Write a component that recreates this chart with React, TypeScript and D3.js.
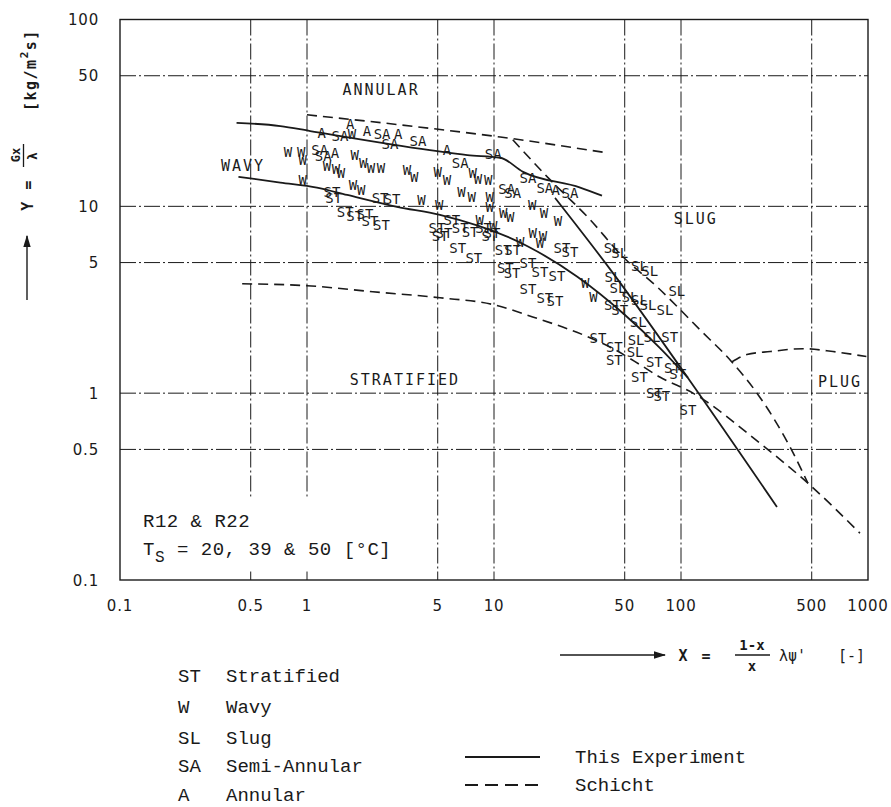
import React from 'react';
import * as d3 from 'd3';

// ---------- axis ticks ----------
const xTicks = [0.1, 0.5, 1, 5, 10, 50, 100, 500, 1000];
const xTickLabels = ['0.1', '0.5', '1', '5', '10', '50', '100', '500', '1000'];
const yTicks = [0.1, 0.5, 1, 5, 10, 50, 100];
const yTickLabels = ['0.1', '0.5', '1', '5', '10', '50', '100'];
const hGrid = [0.5, 1, 5, 10, 50];
const vGridFull = [5, 10, 50, 100, 500];
const vGridPartial = [0.5, 1];

// ---------- observed flow patterns [X, Y] ----------
const stPoints: [number, number][] = [
  [1.36, 12.0], [1.39, 11.1], [1.6, 9.35], [1.8, 8.9], [2.04, 9.1], [2.17, 8.3], [2.5, 7.9], [2.46, 11.1], [2.85, 11.0],
  [4.95, 7.7], [5.4, 7.2], [5.15, 6.9], [5.95, 8.5], [6.6, 7.7], [7.45, 7.3], [8.8, 7.7], [9.75, 7.2], [6.4, 6.0], [7.8, 5.3], [9.5, 6.9],
  [11.2, 5.85], [12.6, 5.85], [11.5, 4.7], [12.5, 4.4], [15.2, 5.0], [17.6, 4.45], [21.7, 4.25], [15.2, 3.6], [18.7, 3.25], [21.2, 3.1],
  [23.1, 6.0], [25.5, 5.7], [43, 2.95], [47, 2.8], [36, 1.98], [44, 1.77], [44, 1.51], [60, 1.22], [72, 1.46], [87, 2.0],
  [90, 1.37], [96, 1.27], [72, 1.0], [79, 0.97], [109, 0.81],
];
const wPoints: [number, number][] = [
  [0.79, 19.6], [0.93, 19.6], [0.95, 17.7], [0.95, 13.9], [1.28, 16.5], [1.43, 15.9], [1.52, 15.1], [1.8, 18.8], [2.0, 17.1], [2.2, 16.1],
  [2.49, 16.1], [3.42, 15.6], [3.74, 14.4], [5.0, 15.3], [5.6, 13.9], [7.7, 15.1], [8.2, 14.0], [9.3, 13.9], [6.7, 12.0], [7.6, 11.2],
  [9.5, 11.2], [1.76, 13.0], [1.95, 12.2], [4.1, 10.8], [5.1, 10.2], [9.5, 9.9], [11.2, 9.2], [12.2, 8.8], [16, 10.2], [18.5, 9.2],
  [22, 8.3], [16.1, 7.2], [18.3, 6.9], [13.8, 6.45], [17.6, 6.4], [8.4, 8.5], [9.9, 7.8], [30.7, 3.9], [34, 3.28], [1.74, 24.4],
];
const saPoints: [number, number][] = [
  [1.17, 20.0], [1.5, 23.8], [2.52, 24.4], [2.78, 21.6], [3.92, 22.4], [6.6, 17.1], [9.9, 19.1], [11.7, 12.4], [12.6, 11.8],
  [15.2, 14.2], [18.7, 12.6], [25.5, 11.8], [1.22, 18.6],
];
const aPoints: [number, number][] = [
  [1.7, 27.6], [1.2, 24.7], [2.09, 25.3], [3.07, 24.4], [1.41, 19.3], [5.6, 20.0], [21.4, 12.2],
];
const slPoints: [number, number][] = [
  [42.8, 6.0], [47, 5.63], [60, 4.8], [68, 4.5], [95, 3.53], [43.3, 4.2], [46, 3.66], [53.4, 3.28], [60, 3.16], [66.6, 2.98],
  [82, 2.8], [59, 2.41], [57.5, 1.93], [70, 2.0], [56.8, 1.67],
];

// ---------- boundary curves ----------
// This Experiment (solid)
const expUpper: [number, number][] = [
  [0.42, 28.0], [0.72, 26.9], [1.04, 25.3], [4.54, 20.0], [7.2, 18.8], [10.8, 18.2], [14.3, 15.3], [28.9, 12.6], [37.8, 11.4],
];
const expLower: [number, number][] = [
  [0.43, 14.4], [0.72, 13.4], [1.13, 12.6], [1.64, 11.5], [3.03, 9.94], [5.14, 9.0], [15.2, 6.1], [27.9, 4.2], [50, 2.63], [77, 1.75], [109, 1.21],
];
const expSteep: [number, number][] = [
  [21.2, 11.1], [42.8, 4.46], [108, 1.22], [326, 0.246],
];
// Schicht (dashed)
const schichtTop: [number, number][] = [
  [1, 30.9], [3.14, 27.3], [10.8, 23.5], [40.7, 19.3],
];
const schichtSlug: [number, number][] = [
  [12.6, 22.7], [19.5, 14.2], [32.6, 8.5], [48.9, 5.37], [74.4, 3.71], [126, 2.19], [187, 1.47], [255, 1.0], [383, 0.515], [477, 0.33],
];
const schichtStrat: [number, number][] = [
  [0.45, 3.85], [1, 3.76], [2.25, 3.49], [5.14, 3.24], [9.9, 2.98], [16.1, 2.56], [32.6, 1.98], [44.3, 1.71], [60.4, 1.42],
  [77, 1.22], [116, 1.0], [264, 0.54], [477, 0.33], [906, 0.178],
];
const schichtPlug: [number, number][] = [
  [187, 1.47], [225, 1.61], [300, 1.67], [450, 1.73], [650, 1.67], [980, 1.57],
];

// ---------- region labels ----------
const regionNames = ['ANNULAR', 'WAVY', 'SLUG', 'STRATIFIED', 'PLUG'];
const regionPos: [number, number][] = [[2.49, 39.5], [0.455, 15.5], [120, 8.0], [3.34, 1.1], [708, 1.08]];

// ---------- legend ----------
const legendCodes = ['ST', 'W', 'SL', 'SA', 'A'];
const legendNames = ['Stratified', 'Wavy', 'Slug', 'Semi-Annular', 'Annular'];
const lineLegend = ['This Experiment', 'Schicht'];

const W = 891;
const H = 807;

export default function App() {
  const x = d3.scaleLog().domain([0.1, 1000]).range([120, 868]);
  const y = d3.scaleLog().domain([0.1, 100]).range([580, 19.5]);
  const line = d3
    .line<[number, number]>()
    .x((d) => x(d[0]))
    .y((d) => y(d[1]))
    .curve(d3.curveMonotoneX);
  const plotFont = "'DejaVu Sans Mono', monospace";
  const typeFont = "'Liberation Mono', 'Courier New', monospace";
  const tickFont = "'DejaVu Sans', sans-serif";
  const ink = '#1a1a1a';
  const gridDash = '16,3,2,3';

  const labelSets: { code: string; pts: [number, number][] }[] = [
    { code: 'ST', pts: stPoints },
    { code: 'W', pts: wPoints },
    { code: 'SA', pts: saPoints },
    { code: 'A', pts: aPoints },
    { code: 'SL', pts: slPoints },
  ];

  const legendY = [676, 707, 738, 766, 795];
  const lineLegendY = [757, 785];

  return (
    <svg width={W} height={H} style={{ position: 'absolute', left: 0, top: 0, background: '#fff' }}>
      <defs>
        <marker id="arrowHead" viewBox="0 0 10 10" refX="9" refY="5" markerWidth="9" markerHeight="9" orient="auto-start-reverse">
          <path d="M0,2 L10,5 L0,8 z" fill={ink} />
        </marker>
      </defs>

      {/* grid */}
      <g stroke={ink} strokeWidth={1} fill="none">
        {hGrid.map((v) => (
          <line key={'h' + v} x1={x(0.1)} x2={x(1000)} y1={y(v)} y2={y(v)} strokeDasharray={gridDash} />
        ))}
        {vGridFull.map((v) => (
          <line key={'v' + v} x1={x(v)} x2={x(v)} y1={y(100)} y2={y(0.1)} strokeDasharray={gridDash} />
        ))}
        {vGridPartial.map((v) => (
          <g key={'vp' + v}>
            <line x1={x(v)} x2={x(v)} y1={y(100)} y2={y(0.28)} strokeDasharray={gridDash} />
            <line x1={x(v)} x2={x(v)} y1={y(0.111)} y2={y(0.1)} />
          </g>
        ))}
        <rect x={x(0.1)} y={y(100)} width={x(1000) - x(0.1)} height={y(0.1) - y(100)} strokeWidth={1.4} />
      </g>

      {/* tick labels */}
      <g fontFamily={tickFont} fontSize={15} fill={ink} letterSpacing={0.8}>
        {yTicks.map((v, i) => (
          <text key={'yt' + v} x={99} y={y(v) + 5.5} textAnchor="end">
            {yTickLabels[i]}
          </text>
        ))}
        {xTicks.map((v, i) => (
          <text key={'xt' + v} x={x(v)} y={611} textAnchor="middle">
            {xTickLabels[i]}
          </text>
        ))}
      </g>

      {/* boundary curves */}
      <g fill="none" stroke={ink}>
        {[expUpper, expLower, expSteep].map((d, i) => (
          <path key={'e' + i} d={line(d) || ''} strokeWidth={1.8} />
        ))}
        {[schichtTop, schichtSlug, schichtStrat, schichtPlug].map((d, i) => (
          <path key={'s' + i} d={line(d) || ''} strokeWidth={1.6} strokeDasharray="10,6" />
        ))}
      </g>

      {/* data labels */}
      <g fontFamily={plotFont} fontSize={14} fill={ink} textAnchor="middle" dominantBaseline="central">
        {labelSets.map((s) =>
          s.pts.map((p, i) => (
            <text key={s.code + i} x={x(p[0])} y={y(p[1])}>
              {s.code}
            </text>
          ))
        )}
      </g>

      {/* region labels */}
      <g fontFamily={plotFont} fontSize={15} fill={ink} textAnchor="middle" letterSpacing={2}>
        {regionNames.map((n, i) => (
          <text key={n} x={x(regionPos[i][0])} y={y(regionPos[i][1])}>
            {n}
          </text>
        ))}
      </g>

      {/* conditions */}
      <g fontFamily={typeFont} fontSize={19} fill={ink} letterSpacing={0.5}>
        <text x={143} y={527}>R12 &amp; R22</text>
        <text x={143} y={555}>T</text>
        <text x={155} y={562} fontSize={16}>S</text>
        <text x={177} y={555}>= 20, 39 &amp; 50 [°C]</text>
      </g>

      {/* y-axis title */}
      <g fill={ink} fontFamily={plotFont} fontWeight={600}>
        <text transform="translate(33,195) rotate(-90)" textAnchor="middle" fontSize={15} letterSpacing={1.5}>
          Y =
        </text>
        <text transform="translate(20,155) rotate(-90)" textAnchor="middle" fontSize={12}>
          Gx
        </text>
        <line x1={23.5} x2={23.5} y1={144} y2={167} stroke={ink} strokeWidth={1.3} />
        <text transform="translate(37,156) rotate(-90)" textAnchor="middle" fontSize={13}>
          λ
        </text>
        <text transform="translate(36,111) rotate(-90)" textAnchor="start" fontSize={15} letterSpacing={1.5}>
          [kg/m
          <tspan dy={-8} fontSize={11}>2</tspan>
          <tspan dy={8}>s]</tspan>
        </text>
        <line x1={27} x2={27} y1={300} y2={236} stroke={ink} strokeWidth={1.4} markerEnd="url(#arrowHead)" />
      </g>

      {/* x-axis title */}
      <g fill={ink} fontFamily={plotFont} fontSize={15} fontWeight={600}>
        <line x1={560} x2={665} y1={655} y2={655} stroke={ink} strokeWidth={1.4} markerEnd="url(#arrowHead)" />
        <text x={683} y={661} textAnchor="middle">X</text>
        <text x={706} y={661} textAnchor="middle">=</text>
        <text x={752} y={650} textAnchor="middle" fontSize={14}>1-x</text>
        <line x1={735} x2={770} y1={655} y2={655} stroke={ink} strokeWidth={1.3} />
        <text x={752} y={671} textAnchor="middle" fontSize={14}>x</text>
        <text x={779} y={661} fontWeight={400}>λψ'</text>
        <text x={838} y={661} fontWeight={400}>[-]</text>
      </g>

      {/* pattern legend */}
      <g fontFamily={typeFont} fontSize={19} fill={ink}>
        {legendCodes.map((c, i) => (
          <g key={c}>
            <text x={178} y={legendY[i] + 6}>{c}</text>
            <text x={226} y={legendY[i] + 6}>{legendNames[i]}</text>
          </g>
        ))}
      </g>

      {/* line legend */}
      <g fontFamily={typeFont} fontSize={19} fill={ink}>
        <line x1={465} x2={540} y1={lineLegendY[0]} y2={lineLegendY[0]} stroke={ink} strokeWidth={1.8} />
        <line x1={465} x2={540} y1={lineLegendY[1]} y2={lineLegendY[1]} stroke={ink} strokeWidth={1.8} strokeDasharray="13,7" />
        {lineLegend.map((t, i) => (
          <text key={t} x={575} y={lineLegendY[i] + 6}>{t}</text>
        ))}
      </g>
    </svg>
  );
}
